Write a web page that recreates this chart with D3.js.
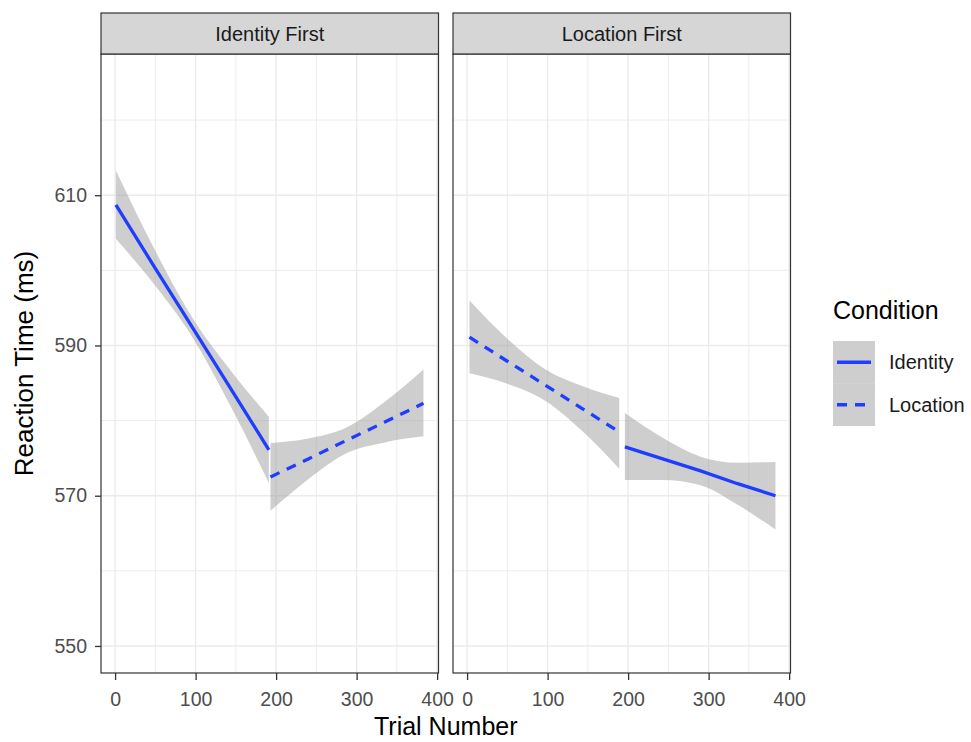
<!DOCTYPE html>
<html>
<head>
<meta charset="utf-8">
<script src="https://cdn.jsdelivr.net/npm/d3@7"></script>
<style>
  body { margin: 0; background: #fff; }
  svg { display: block; font-family: "Liberation Sans", Arial, Helvetica, sans-serif; }
</style>
</head>
<body>
<svg id="chart" width="971" height="742"></svg>
<script>
// ---------- data ----------
const panelNames = ["Identity First", "Location First"];
const conditionNames = ["Identity", "Location"];
const xTicks = [0, 100, 200, 300, 400];
const xMinor = [50, 150, 250, 350];
const yTicks = [550, 570, 590, 610];
const yMinor = [560, 580, 600, 620];

// Identity First panel
const idFirst_identity_trial = [1, 48, 96, 144, 191];
const idFirst_identity_rt    = [608.7, 600.6, 592.4, 584.2, 576.1];
const idFirst_identity_upper = [613.3, 603.0, 593.7, 586.6, 580.5];
const idFirst_identity_lower = [604.2, 598.2, 591.1, 581.8, 571.7];

const idFirst_location_trial = [193, 240, 288, 335, 383];
const idFirst_location_rt    = [572.5, 574.9, 577.4, 579.8, 582.3];
const idFirst_location_upper = [577.0, 577.6, 579.1, 582.5, 586.8];
const idFirst_location_lower = [568.0, 572.2, 575.7, 577.1, 577.9];

// Location First panel
const locFirst_location_trial = [3, 50, 96, 143, 189];
const locFirst_location_rt    = [591.1, 587.9, 584.8, 581.6, 578.5];
const locFirst_location_upper = [596.0, 590.9, 586.9, 584.6, 583.0];
const locFirst_location_lower = [586.3, 584.9, 582.7, 578.6, 573.6];

const locFirst_identity_trial = [196, 243, 290, 336, 383];
const locFirst_identity_rt    = [576.5, 574.9, 573.3, 571.6, 570.0];
const locFirst_identity_upper = [581.0, 577.7, 575.2, 574.4, 574.5];
const locFirst_identity_lower = [572.1, 572.1, 571.4, 568.8, 565.5];

function zipSeries(trial, rt, lo, hi) {
  return trial.map((t, i) => ({ x: t, y: rt[i], lo: lo[i], hi: hi[i] }));
}

const panelSeries = [
  [
    { cond: "Identity", pts: zipSeries(idFirst_identity_trial, idFirst_identity_rt, idFirst_identity_lower, idFirst_identity_upper) },
    { cond: "Location", pts: zipSeries(idFirst_location_trial, idFirst_location_rt, idFirst_location_lower, idFirst_location_upper) }
  ],
  [
    { cond: "Location", pts: zipSeries(locFirst_location_trial, locFirst_location_rt, locFirst_location_lower, locFirst_location_upper) },
    { cond: "Identity", pts: zipSeries(locFirst_identity_trial, locFirst_identity_rt, locFirst_identity_lower, locFirst_identity_upper) }
  ]
];

// ---------- layout ----------
const svg = d3.select("#chart");
const panelTop = 54, panelBottom = 673, stripTop = 13;
const panelX = [[101, 438.5], [453, 790.5]];
const xDomain = [-17.5, 401.7];
const yScale = d3.scaleLinear().domain([546.4, 628.8]).range([panelBottom, panelTop]);

const lineColor = "#1f3dff";
const dashArr = "10,8";
const ribbonFill = "#999999", ribbonOpacity = 0.48;
const gridCol = "#ebebeb";
const borderCol = "#333333";
const tickTextCol = "#4d4d4d";

panelNames.forEach((name, pi) => {
  const [x0, x1] = panelX[pi];
  const xScale = d3.scaleLinear().domain(xDomain).range([x0, x1]);
  const g = svg.append("g");

  g.append("rect").attr("x", x0).attr("y", panelTop).attr("width", x1 - x0).attr("height", panelBottom - panelTop).attr("fill", "#fff");

  // minor grid
  g.selectAll(".vmin").data(xMinor).join("line")
    .attr("x1", d => xScale(d)).attr("x2", d => xScale(d))
    .attr("y1", panelTop).attr("y2", panelBottom)
    .attr("stroke", gridCol).attr("stroke-width", 0.9);
  g.selectAll(".hmin").data(yMinor).join("line")
    .attr("y1", d => yScale(d)).attr("y2", d => yScale(d))
    .attr("x1", x0).attr("x2", x1)
    .attr("stroke", gridCol).attr("stroke-width", 0.9);
  // major grid
  g.selectAll(".vmaj").data(xTicks).join("line")
    .attr("x1", d => xScale(d)).attr("x2", d => xScale(d))
    .attr("y1", panelTop).attr("y2", panelBottom)
    .attr("stroke", gridCol).attr("stroke-width", 1.4);
  g.selectAll(".hmaj").data(yTicks).join("line")
    .attr("y1", d => yScale(d)).attr("y2", d => yScale(d))
    .attr("x1", x0).attr("x2", x1)
    .attr("stroke", gridCol).attr("stroke-width", 1.4);

  // ribbons and lines
  panelSeries[pi].forEach(s => {
    const area = d3.area().x(d => xScale(d.x)).y0(d => yScale(d.lo)).y1(d => yScale(d.hi)).curve(d3.curveMonotoneX);
    g.append("path").datum(s.pts).attr("d", area).attr("fill", ribbonFill).attr("fill-opacity", ribbonOpacity);
  });
  panelSeries[pi].forEach(s => {
    const line = d3.line().x(d => xScale(d.x)).y(d => yScale(d.y));
    g.append("path").datum(s.pts).attr("d", line)
      .attr("fill", "none").attr("stroke", lineColor).attr("stroke-width", 3.3)
      .attr("stroke-dasharray", s.cond === "Location" ? dashArr : null);
  });

  // border
  g.append("rect").attr("x", x0).attr("y", panelTop).attr("width", x1 - x0).attr("height", panelBottom - panelTop)
    .attr("fill", "none").attr("stroke", borderCol).attr("stroke-width", 1.2);

  // strip
  g.append("rect").attr("x", x0).attr("y", stripTop).attr("width", x1 - x0).attr("height", panelTop - stripTop)
    .attr("fill", "#d6d6d6").attr("stroke", borderCol).attr("stroke-width", 1.2);
  g.append("text").attr("x", (x0 + x1) / 2).attr("y", (stripTop + panelTop) / 2 + 7)
    .attr("text-anchor", "middle").attr("font-size", 20).attr("fill", "#1a1a1a").text(name);

  // x axis
  const xAxis = d3.axisBottom(xScale).tickValues(xTicks).tickSize(7).tickPadding(12).tickFormat(d3.format("d"));
  const xa = g.append("g").attr("transform", `translate(0,${panelBottom})`).call(xAxis);
  xa.select(".domain").remove();
  xa.selectAll(".tick line").attr("stroke", borderCol).attr("stroke-width", 1.3);
  xa.selectAll(".tick text").attr("font-size", 19.5).attr("fill", tickTextCol).attr("font-family", null);

  if (pi === 0) {
    const yAxis = d3.axisLeft(yScale).tickValues(yTicks).tickSize(6).tickPadding(8);
    const ya = g.append("g").attr("transform", `translate(${x0},0)`).call(yAxis);
    ya.select(".domain").remove();
    ya.selectAll(".tick line").attr("stroke", borderCol).attr("stroke-width", 1.3);
    ya.selectAll(".tick text").attr("font-size", 19.5).attr("fill", tickTextCol).attr("font-family", null);
  }
});

// axis titles
svg.append("text").attr("x", (panelX[0][0] + panelX[1][1]) / 2).attr("y", 735)
  .attr("text-anchor", "middle").attr("font-size", 25).attr("fill", "#000").text("Trial Number");
svg.append("text").attr("transform", `translate(33,${(panelTop + panelBottom) / 2}) rotate(-90)`)
  .attr("text-anchor", "middle").attr("font-size", 26).attr("fill", "#000").text("Reaction Time (ms)");

// legend
const lg = svg.append("g");
lg.append("text").attr("x", 833).attr("y", 319).attr("font-size", 25).attr("fill", "#000").text("Condition");
const keyX = 833, keyW = 42, keyH = 42.5, keyY0 = 341;
conditionNames.forEach((c, i) => {
  const ky = keyY0 + i * keyH;
  lg.append("rect").attr("x", keyX).attr("y", ky).attr("width", keyW).attr("height", keyH)
    .attr("fill", ribbonFill).attr("fill-opacity", ribbonOpacity);
  lg.append("line").attr("x1", keyX + 4).attr("x2", keyX + keyW - 4)
    .attr("y1", ky + keyH / 2).attr("y2", ky + keyH / 2)
    .attr("stroke", lineColor).attr("stroke-width", 3.3)
    .attr("stroke-dasharray", c === "Location" ? "10,8" : null);
  lg.append("text").attr("x", 889).attr("y", ky + keyH / 2 + 7).attr("font-size", 20).attr("fill", "#1a1a1a").text(c);
});
</script>
</body>
</html>
